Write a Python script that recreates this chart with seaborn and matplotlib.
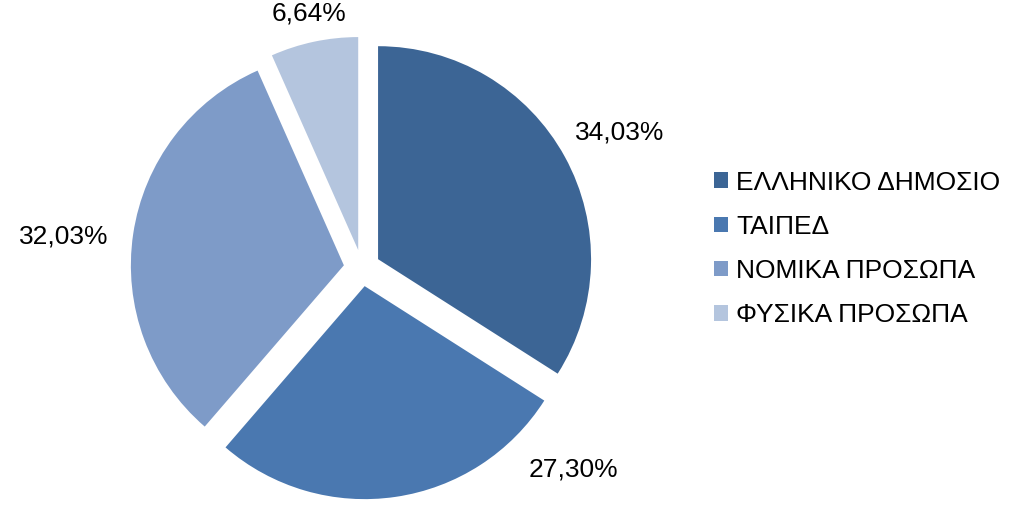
import numpy as np
import matplotlib
matplotlib.use('Agg')
import matplotlib.pyplot as plt
import seaborn as sns

# veriler
kategoriler = ['ΕΛΛΗΝΙΚΟ ΔΗΜΟΣΙΟ', 'ΤΑΙΠΕΔ', 'ΝΟΜΙΚΑ ΠΡΟΣΩΠΑ', 'ΦΥΣΙΚΑ ΠΡΟΣΩΠΑ']
paylar = [34.03, 27.30, 32.03, 6.64]
etiketler = ['34,03%', '27,30%', '32,03%', '6,64%']
renkler = ['#3C6595', '#4A78B0', '#7E9BC8', '#B4C5DE']

sns.set_theme(style='white')
plt.rcParams['font.family'] = ['Liberation Sans', 'DejaVu Sans']

fig = plt.figure(figsize=(10.22, 5.25), dpi=100)

# pasta merkezi ~ (362, 268) px, yaricap ~ 213 px
r_px = 213
lim = 1.5
w_px = 2 * lim * r_px
ax = fig.add_axes([(362 - w_px / 2) / 1022, (525 - 268 - w_px / 2) / 525,
                   w_px / 1022, w_px / 525])

wedges, _ = ax.pie(paylar, colors=renkler, startangle=90, counterclock=False,
                   explode=[0.086] * len(paylar), radius=1,
                   wedgeprops=dict(linewidth=0))
ax.set_xlim(-lim, lim)
ax.set_ylim(-lim, lim)
ax.set_aspect('equal')
ax.axis('off')

# yuzde etiketleri (Excel tarzi konumlar)
etiket_yerleri = [(1.211, 0.634), (0.991, -0.948), (-1.40, 0.15), (-0.25, 1.195)]
for txt, (x, y) in zip(etiketler, etiket_yerleri):
    ax.text(x, y, txt, ha='center', va='center', fontsize=19, color='black')

fig.legend(wedges, kategoriler, loc='center left', bbox_to_anchor=(0.688, 0.526),
           frameon=False, fontsize=19, handlelength=0.55, handleheight=0.55,
           handletextpad=0.3, labelspacing=0.76, borderaxespad=0,
           labelcolor='black')

plt.savefig('out.png', dpi=100)
